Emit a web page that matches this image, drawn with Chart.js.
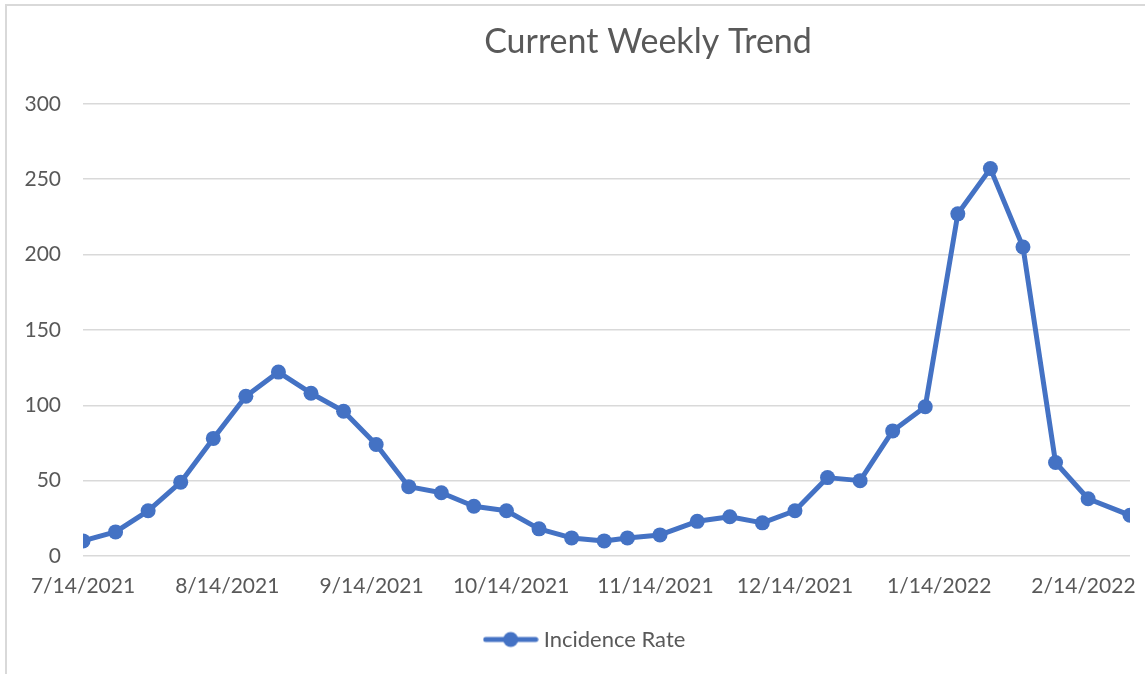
<!DOCTYPE html>
<html>
<head>
<meta charset="utf-8">
<script src="https://cdn.jsdelivr.net/npm/chart.js@4.4.1/dist/chart.umd.min.js"></script>
<style>
  body { margin: 0; background: #fff; }
  #wrap { position: relative; width: 1145px; height: 674px; overflow: hidden; }
  #frame { position: absolute; left: 5px; top: 4px; width: 1200px; height: 720px; border: 2px solid #d9d9d9; pointer-events: none; }
  canvas { position: absolute; left: 0; top: 0; }
</style>
</head>
<body>
<div id="wrap">
  <div id="frame"></div>
  <canvas id="myChart" width="1145" height="674"></canvas>
</div>
<script>
// weekly readings
const weekDates = ["2021-07-14", "2021-07-21", "2021-07-28", "2021-08-04", "2021-08-11", "2021-08-18", "2021-08-25",
  "2021-09-01", "2021-09-08", "2021-09-15", "2021-09-22", "2021-09-29", "2021-10-06", "2021-10-13", "2021-10-20",
  "2021-10-27", "2021-11-03", "2021-11-08", "2021-11-15", "2021-11-23", "2021-11-30", "2021-12-07", "2021-12-14",
  "2021-12-21", "2021-12-28", "2022-01-04", "2022-01-11", "2022-01-18", "2022-01-25", "2022-02-01", "2022-02-08",
  "2022-02-15", "2022-02-24"];
const incidenceRate = [10, 16, 30, 49, 78, 106, 122, 108, 96, 74, 46, 42, 33, 30, 18, 12, 10, 12, 14, 23, 26, 22, 30,
  52, 50, 83, 99, 227, 257, 205, 62, 38, 27];
const tickDates = ["2021-07-14", "2021-08-14", "2021-09-14", "2021-10-14", "2021-11-14", "2021-12-14", "2022-01-14", "2022-02-14"];
const yTicks = [0, 50, 100, 150, 200, 250, 300];

const BLUE = "#4472C4";
const TEXT = "#595959";
const FONT = "Lato";

var start = Date.parse(weekDates[0]);
function toDay(s) { return Math.round((Date.parse(s) - start) / 864e5); }
function dayLabel(d) {
  var dt = new Date(start + d * 864e5);
  return (dt.getUTCMonth() + 1) + "/" + dt.getUTCDate() + "/" + dt.getUTCFullYear();
}

var points = weekDates.map(function (d, i) { return { x: toDay(d), y: incidenceRate[i] }; });
var tickDays = tickDates.map(toDay);

// legend marker: line with a dot in the middle
var marker = document.createElement("canvas");
marker.width = 56; marker.height = 18;
var mc = marker.getContext("2d");
mc.strokeStyle = BLUE; mc.lineWidth = 5; mc.lineCap = "round";
mc.beginPath(); mc.moveTo(3, 9); mc.lineTo(53, 9); mc.stroke();
mc.fillStyle = BLUE;
mc.beginPath(); mc.arc(28, 9, 7.5, 0, Math.PI * 2); mc.fill();

// title and legend sit a bit right of centre in the original
const shiftBlocks = {
  id: "shiftBlocks",
  afterLayout: function (chart) {
    if (chart.titleBlock) chart.titleBlock.left = 166;
    if (chart.legend) chart.legend.left += 44;
  }
};

var ctx = document.getElementById('myChart').getContext('2d');
var myChart = new Chart(ctx, {
  type: 'line',
  data: {
    datasets: [{
      label: "Incidence Rate",
      data: points,
      borderColor: BLUE,
      backgroundColor: BLUE,
      borderWidth: 5,
      pointRadius: 7.5,
      pointBorderWidth: 0,
      pointBackgroundColor: BLUE,
      borderJoinStyle: "round",
      fill: false,
      tension: 0
    }]
  },
  plugins: [shiftBlocks],
  options: {
    responsive: false,
    animation: false,
    layout: { padding: { left: 0, right: 15, top: 0, bottom: 13.5 } },
    plugins: {
      tooltip: { enabled: false },
      title: {
        display: true,
        text: "Current Weekly Trend",
        color: TEXT,
        font: { family: FONT, size: 34, weight: "normal" },
        padding: { top: 22, bottom: 41 }
      },
      legend: {
        position: "bottom",
        labels: {
          usePointStyle: true,
          pointStyle: marker,
          pointStyleWidth: 44,
          padding: 12.5,
          color: TEXT,
          font: { family: FONT, size: 22 }
        }
      }
    },
    scales: {
      x: {
        type: "linear",
        min: 0,
        max: points[points.length - 1].x,
        grid: { display: false, drawTicks: false },
        border: { display: false },
        afterBuildTicks: function (s) { s.ticks = tickDays.map(function (v) { return { value: v }; }); },
        afterFit: function (s) { s.paddingRight = 0; },
        ticks: {
          padding: 17.4,
          maxRotation: 0,
          autoSkip: false,
          color: TEXT,
          font: { family: FONT, size: 21 },
          callback: function (v) { return dayLabel(v); }
        }
      },
      y: {
        min: 0,
        max: 300,
        afterFit: function (s) { s.width = 83; },
        afterBuildTicks: function (s) { s.ticks = yTicks.map(function (v) { return { value: v }; }); },
        grid: { color: "#d9d9d9", lineWidth: 1.5, drawTicks: false },
        border: { display: false },
        ticks: {
          padding: 22,
          color: TEXT,
          font: { family: FONT, size: 21 }
        }
      }
    }
  }
});
</script>
</body>
</html>
